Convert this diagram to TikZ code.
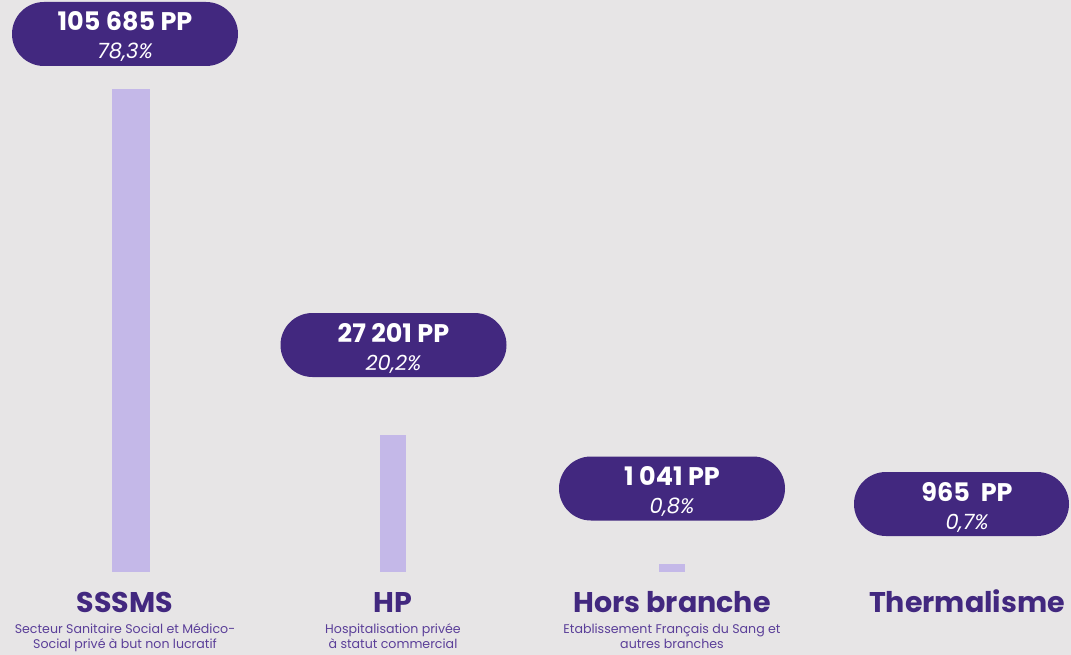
\documentclass[tikz,border=0pt]{standalone}
\usepackage{fontspec}
\setmainfont{Poppins}
\usetikzlibrary{positioning}
\definecolor{bgGrey}{HTML}{E7E5E6}
\definecolor{pillPurple}{HTML}{42287F}
\definecolor{barLilac}{HTML}{C4B8E8}
\definecolor{subPurple}{HTML}{5B3F99}

\begin{document}
\begin{tikzpicture}[x=1pt, y=-1pt,
    pill/.style={rectangle, rounded corners=32pt, minimum width=226pt, minimum height=64pt, fill=pillPurple, inner sep=0pt},
    value/.style={anchor=base, text=white, font=\fontsize{25.5}{25.5}\selectfont\bfseries, inner sep=0pt},
    share/.style={anchor=base, text=white, font=\fontsize{21}{21}\selectfont\itshape, inner sep=0pt},
    bar/.style={rectangle, fill=barLilac, draw=none, inner sep=0pt, anchor=south},
    sector/.style={anchor=base, text=pillPurple, font=\fontsize{28.5}{28.5}\selectfont\bfseries, inner sep=0pt},
    detail/.style={anchor=base, text=subPurple, font=\fontsize{12.6}{15}\selectfont, align=center, inner sep=0pt}]

    % background
    \fill[bgGrey] (0,0) rectangle (1071,655);
    \useasboundingbox (0,0) rectangle (1071,655);

    % Bars
    \node[bar, minimum width=38pt, minimum height=483pt] (barA) at (131,572) {};
    \node[bar, minimum width=26pt, minimum height=137pt] (barB) at (393,572) {};
    \node[bar, minimum width=26pt, minimum height=8pt] (barC) at (672,572) {};

    % Value pills
    \node[pill] (pillA) at (125,34) {};
    \node[value] (valA) at (125,31) {105 685 PP};
    \node[share] (pctA) at (125,59) {78,3\%};

    \node[pill] (pillB) at (393.5,345) {};
    \node[value] (valB) at (393.5,342) {27 201 PP};
    \node[share] (pctB) at (393.5,370) {20,2\%};

    \node[pill] (pillC) at (672,488.5) {};
    \node[value] (valC) at (672,485.5) {1 041 PP};
    \node[share] (pctC) at (672,513.5) {0,8\%};

    \node[pill, minimum width=215pt] (pillD) at (961.5,504) {};
    \node[value] (valD) at (967,501) {965\ \ PP};
    \node[share] (pctD) at (967,529) {0,7\%};

    % Sector names
    \node[sector] (secA) at (125,612) {SSSMS};
    \node[sector] (secB) at (393,612) {HP};
    \node[sector] (secC) at (672,612) {Hors branche};
    \node[sector] (secD) at (967,612) {Thermalisme};

    % Sector details (base = last line)
    \node[detail] (detA) at (125,648) {Secteur Sanitaire Social et Médico-\\Social privé à but non lucratif};
    \node[detail] (detB) at (393,648) {Hospitalisation privée\\à statut commercial};
    \node[detail] (detC) at (672,648) {Etablissement Français du Sang et\\autres branches};
\end{tikzpicture}
\end{document}
